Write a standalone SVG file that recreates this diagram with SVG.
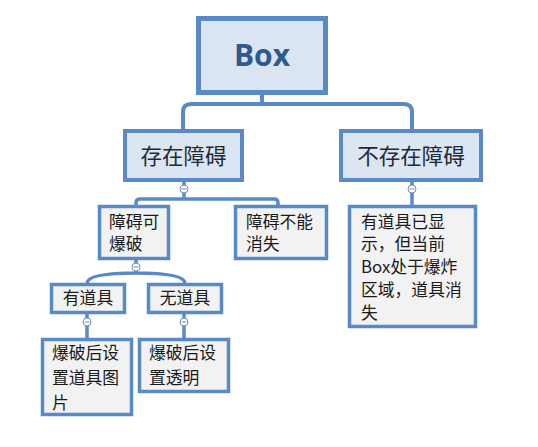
<svg xmlns="http://www.w3.org/2000/svg" width="538" height="447" viewBox="0 0 538 447">
<style>
.c{fill:none;stroke:#5a8ac6;stroke-linecap:butt}
.n0{fill:#dbe5f1;stroke:#5a8ac6;stroke-width:5}
.n1{fill:#dce6f2;stroke:#5a8ac6;stroke-width:4}
.n2{fill:#f2f2f2;stroke:#5a8ac6;stroke-width:3.5}
.t{font-family:"Noto Sans CJK SC","Microsoft YaHei",sans-serif;fill:#1a1a1a}
.t1{font-size:21.5px;text-anchor:middle;fill:#1f2a38}
.t2{font-size:16.8px}
.tc{text-anchor:middle}
.k{fill:#ffffff;stroke:#6e8fb8;stroke-width:1}
.km{stroke:#6e8fb8;stroke-width:1}
</style>
<rect width="538" height="447" fill="#ffffff"/>
<g id="connectors">
<path class="c" stroke-width="4" d="M262,94 V104 M183,129 V112 Q183,104 191,104 H404 Q412,104 412,112 V129"/>
<path class="c" stroke-width="3.5" d="M184,182 V199 M136,205 V203 Q136,199 140,199 H274 Q278,199 278,203 V205"/>
<path class="c" stroke-width="3.5" d="M136,260 V273 M87,283 Q88,273 136,273 Q184,273 185,283"/>
<path class="c" stroke-width="3.5" d="M87,314 V338 M184,314 V338 M412,182 V205"/>
<g id="toggles">
<circle class="k" cx="184" cy="189" r="4"/><path class="km" d="M181.5,189 H186.5"/>
<circle class="k" cx="412" cy="189" r="4"/><path class="km" d="M409.5,189 H414.5"/>
<circle class="k" cx="136" cy="267" r="4"/><path class="km" d="M133.5,267 H138.5"/>
<circle class="k" cx="87" cy="322" r="4"/><path class="km" d="M84.5,322 H89.5"/>
<circle class="k" cx="184" cy="322" r="4"/><path class="km" d="M181.5,322 H186.5"/>
</g>
</g>
<g id="box">
<rect class="n0" x="198.5" y="18.5" width="127" height="74"/>
<text x="262" y="66" text-anchor="middle" font-family="'Open Sans','Noto Sans',sans-serif" font-weight="bold" font-size="30" fill="#2f5a8f">Box</text>
</g>
<g id="has-obstacle">
<rect class="n1" x="125" y="131" width="117" height="49"/>
<text class="t t1" x="183.5" y="164">存在障碍</text>
</g>
<g id="no-obstacle">
<rect class="n1" x="341" y="131" width="140" height="49"/>
<text class="t t1" x="411" y="164">不存在障碍</text>
</g>
<g id="breakable">
<rect class="n2" x="99.5" y="206.5" width="69" height="52"/>
<text class="t t2" x="109" y="228">障碍可</text>
<text class="t t2" x="109" y="250">爆破</text>
</g>
<g id="unbreakable">
<rect class="n2" x="235.5" y="206.5" width="91" height="52"/>
<text class="t t2" x="246" y="228">障碍不能</text>
<text class="t t2" x="246" y="250">消失</text>
</g>
<g id="has-item">
<rect class="n2" x="51.5" y="284.5" width="73" height="28"/>
<text class="t t2 tc" x="88" y="304">有道具</text>
</g>
<g id="no-item">
<rect class="n2" x="148.5" y="284.5" width="73" height="28"/>
<text class="t t2 tc" x="185" y="304">无道具</text>
</g>
<g id="set-item-image">
<rect class="n2" x="42.5" y="339.5" width="89" height="75"/>
<text class="t t2" x="52" y="359">爆破后设</text>
<text class="t t2" x="52" y="384">置道具图</text>
<text class="t t2" x="52" y="409">片</text>
</g>
<g id="set-transparent">
<rect class="n2" x="139.5" y="339.5" width="89" height="52"/>
<text class="t t2" x="149" y="359">爆破后设</text>
<text class="t t2" x="149" y="384">置透明</text>
</g>
<g id="item-vanish">
<rect class="n2" x="349.5" y="206.5" width="126" height="120"/>
<text class="t t2" x="361" y="228">有道具已显</text>
<text class="t t2" x="361" y="250">示，但当前</text>
<text class="t t2" x="361" y="273">Box处于爆炸</text>
<text class="t t2" x="361" y="296">区域，道具消</text>
<text class="t t2" x="361" y="319">失</text>
</g>
</svg>
